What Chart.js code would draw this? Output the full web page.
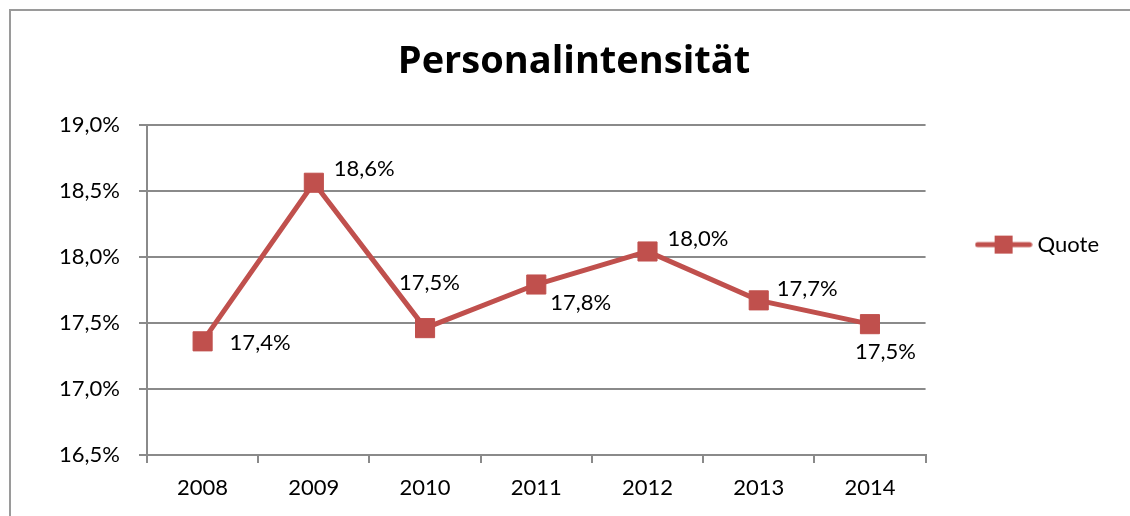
<!DOCTYPE html>
<html>
<head>
<meta charset="utf-8">
<script src="https://cdn.jsdelivr.net/npm/chart.js@4/dist/chart.umd.min.js"></script>
<style>
  html, body { margin: 0; padding: 0; background: #fff; }
  canvas { display: block; }
</style>
</head>
<body>
<canvas id="chart" width="1130" height="516"></canvas>
<script>
// ---------- data ----------
const years = ["2008", "2009", "2010", "2011", "2012", "2013", "2014"];
const quoteValues = [17.36, 18.56, 17.46, 17.79, 18.04, 17.67, 17.49];
const yMin = 16.5, yMax = 19.0, yStep = 0.5;
const seriesName = "Quote";
const chartTitle = "Personalintensität";

// label placement next to each point (left edge dx, center dy)
const labelOffsets = [[27, 2], [20, -14], [-26, -45], [14, 18], [20, -13], [18, -11], [-15, 28]];

const RED = "#C0504D";
const GRID = "#8a8a8a";
const FONT = "Lato, 'Open Sans', sans-serif";

function pct(v){ return v.toFixed(1).replace(".", ",") + "%"; }

// legend symbol: line with square marker
const legendImg = document.createElement("canvas");
legendImg.width = 58; legendImg.height = 20;
(function(){
  const c = legendImg.getContext("2d");
  c.strokeStyle = RED; c.lineWidth = 5; c.lineCap = "round";
  c.beginPath(); c.moveTo(3, 10); c.lineTo(55, 10); c.stroke();
  c.fillStyle = RED; c.fillRect(20, 1, 18, 18);
})();

// outer frame
const framePlugin = {
  id: "frame",
  beforeDraw(chart){
    const ctx = chart.ctx;
    ctx.save();
    ctx.strokeStyle = "#9a9a9a";
    ctx.lineWidth = 2;
    ctx.strokeRect(10, 10, 1200, 600);
    ctx.restore();
  }
};

// value labels drawn at the points
const valueLabels = {
  id: "valueLabels",
  afterDatasetsDraw(chart){
    const ctx = chart.ctx;
    const meta = chart.getDatasetMeta(0);
    ctx.save();
    ctx.font = "22px " + FONT;
    ctx.fillStyle = "#000";
    ctx.textAlign = "left";
    ctx.textBaseline = "middle";
    meta.data.forEach((pt, i) => {
      const off = labelOffsets[i] || [15, 0];
      ctx.fillText(pct(quoteValues[i]), pt.x + off[0], pt.y + off[1]);
    });
    ctx.restore();
  }
};

const ctx = document.getElementById("chart").getContext("2d");
new Chart(ctx, {
  type: "line",
  data: {
    labels: years,
    datasets: [{
      label: seriesName,
      data: quoteValues,
      borderColor: RED,
      backgroundColor: RED,
      borderWidth: 5,
      pointStyle: "rect",
      pointRadius: 13.5,
      pointBorderWidth: 1,
      pointBackgroundColor: RED,
      pointBorderColor: RED,
      tension: 0
    }]
  },
  options: {
    responsive: false,
    animation: false,
    layout: { padding: { left: 39, right: 21, top: 0, bottom: 0 } },
    scales: {
      x: {
        offset: true,
        grid: { display: true, offset: true, drawOnChartArea: false, drawTicks: true, tickLength: 8, color: GRID, lineWidth: 2 },
        border: { display: true, color: GRID, width: 2 },
        ticks: { color: "#000", font: { family: FONT, size: 22 }, padding: 12, maxRotation: 0 },
        afterFit(scale){ scale.height = 61; }
      },
      y: {
        min: yMin, max: yMax,
        grid: { color: GRID, lineWidth: 2, tickLength: 8 },
        border: { display: true, color: GRID, width: 2 },
        ticks: { stepSize: yStep, color: "#000", font: { family: FONT, size: 22 }, padding: 19, callback: (v) => pct(v) },
        afterFit(scale){ scale.width = 108; }
      }
    },
    plugins: {
      title: {
        display: true,
        text: chartTitle,
        color: "#000",
        font: { family: "'Open Sans', Lato, sans-serif", size: 38, weight: "bold" },
        padding: { top: 39, bottom: 40 }
      },
      legend: {
        display: true,
        position: "right",
        align: "start",
        fullSize: false,
        title: { display: true, text: "", font: { size: 10 }, padding: { top: 42, bottom: 0 } },
        labels: {
          usePointStyle: true,
          pointStyle: legendImg,
          pointStyleWidth: 46,
          padding: 55,
          color: "#000",
          font: { family: FONT, size: 22 }
        }
      },
      tooltip: { enabled: false }
    }
  },
  plugins: [framePlugin, valueLabels]
});
</script>
</body>
</html>
